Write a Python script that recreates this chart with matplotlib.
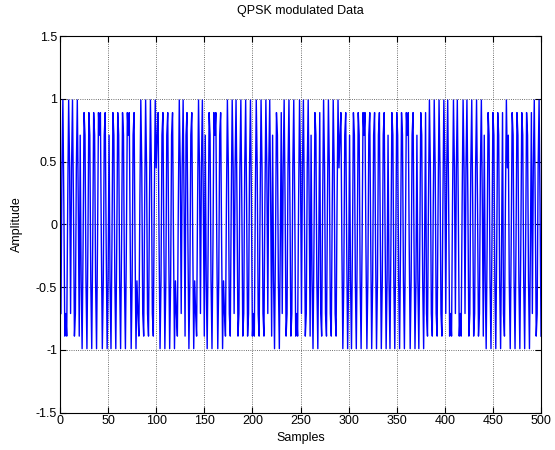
import numpy as np
import matplotlib
matplotlib.use('Agg')
import matplotlib.pyplot as plt

# sample levels seen in one carrier cycle (5 samples) for each of the 4 phases
level_A = [0.71, -0.45, -0.99, -0.16, 0.89]
level_B = [-0.71, -0.89, 0.16, 0.99, 0.45]
level_C = [-0.71, 0.45, 0.99, 0.16, -0.89]
level_D = [0.71, 0.89, -0.16, -0.99, -0.45]

# symbol sequence (one symbol = 5 samples)
symbols = ("CBCCAAAADDAAAADDBBBBDDDDBCDDBCAADDBBCCCCBBBCAACCCBCCAABBBBDDAAADDDDDAAAADDAABBBBCBCBCCCCAAAABAAAAACC")

shapes = {'A': level_A, 'B': level_B, 'C': level_C, 'D': level_D}
amplitude = []
for s in symbols:
    amplitude += shapes[s]
samples = np.arange(1, len(amplitude) + 1)

plt.rcParams['font.family'] = ['Liberation Sans', 'DejaVu Sans']
plt.rcParams['font.size'] = 9

fig = plt.figure(figsize = (5.55, 4.5), dpi = 100)
ax = fig.add_axes([0.1081, 0.0829, 0.8667, 0.8371])
ax.plot(samples, amplitude, color = 'blue', linewidth = 1)
ax.set_xlim(0, 500)
ax.set_ylim(-1.5, 1.5)
ax.set_xticks(np.arange(0, 501, 50))
ax.set_yticks([-1.5, -1, -0.5, 0, 0.5, 1, 1.5])
ax.set_yticklabels(['-1.5', '-1', '-0.5', '0', '0.5', '1', '1.5'])
ax.grid(True, linestyle = ':', color = '#404040', linewidth = 0.6)
ax.tick_params(direction = 'in', top = True, right = True, length = 4, pad = 2)
ax.set_title("QPSK modulated Data", fontsize = 9, pad = 16)
ax.set_xlabel("Samples", labelpad = 3)
ax.set_ylabel("Amplitude", labelpad = 9)
fig.savefig('out.png', dpi = 100)
